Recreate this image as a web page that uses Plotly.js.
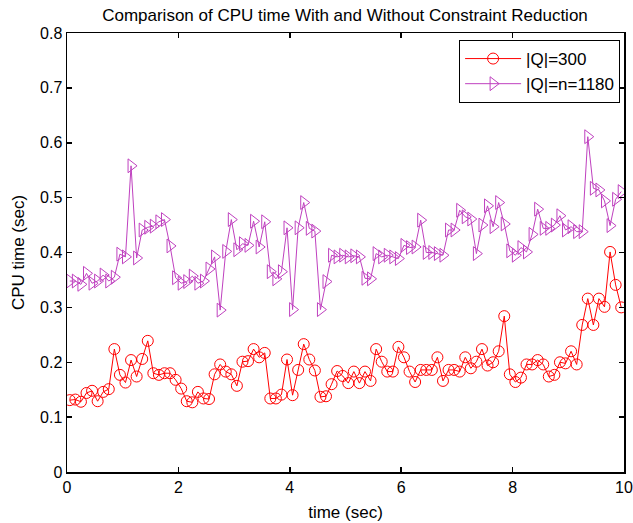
<!DOCTYPE html>
<html>
<head>
<meta charset="utf-8">
<script src="https://cdn.plot.ly/plotly-3.0.1.min.js"></script>
<style>html,body{margin:0;padding:0;background:#fff;}#chart{width:633px;height:523px;}</style>
</head>
<body>
<div id="chart"></div>
<script>
var times = [0.05,0.15,0.25,0.35,0.45,0.55,0.65,0.75,0.85,0.95,
1.05,1.15,1.25,1.35,1.45,1.55,1.65,1.75,1.85,1.95,
2.05,2.15,2.25,2.35,2.45,2.55,2.65,2.75,2.85,2.95,
3.05,3.15,3.25,3.35,3.45,3.55,3.65,3.75,3.85,3.95,
4.05,4.15,4.25,4.35,4.45,4.55,4.65,4.75,4.85,4.95,
5.05,5.15,5.25,5.35,5.45,5.55,5.65,5.75,5.85,5.95,
6.05,6.15,6.25,6.35,6.45,6.55,6.65,6.75,6.85,6.95,
7.05,7.15,7.25,7.35,7.45,7.55,7.65,7.75,7.85,7.95,
8.05,8.15,8.25,8.35,8.45,8.55,8.65,8.75,8.85,8.95,
9.05,9.15,9.25,9.35,9.45,9.55,9.65,9.75,9.85,9.95];

var cpuQ300 = [0.131,0.132,0.128,0.144,0.148,0.129,0.146,0.151,0.224,0.177,
0.163,0.204,0.174,0.206,0.239,0.180,0.177,0.180,0.180,0.168,
0.152,0.129,0.127,0.146,0.134,0.133,0.178,0.196,0.183,0.178,
0.157,0.201,0.202,0.224,0.209,0.217,0.134,0.134,0.141,0.205,
0.140,0.186,0.233,0.205,0.185,0.137,0.138,0.160,0.184,0.175,
0.162,0.183,0.162,0.183,0.166,0.224,0.201,0.183,0.183,0.228,
0.209,0.183,0.164,0.186,0.186,0.186,0.209,0.166,0.186,0.186,
0.183,0.209,0.189,0.201,0.224,0.194,0.200,0.220,0.284,0.178,
0.164,0.172,0.196,0.196,0.204,0.196,0.174,0.177,0.200,0.198,
0.220,0.196,0.268,0.316,0.268,0.316,0.301,0.401,0.341,0.300];

var cpuQ1180 = [0.348,0.348,0.342,0.362,0.344,0.348,0.359,0.348,0.355,0.397,
0.392,0.558,0.390,0.441,0.446,0.448,0.456,0.460,0.412,0.354,
0.344,0.347,0.357,0.344,0.348,0.370,0.392,0.295,0.402,0.460,
0.405,0.416,0.413,0.457,0.410,0.456,0.365,0.352,0.365,0.445,
0.296,0.445,0.491,0.444,0.439,0.296,0.347,0.395,0.392,0.395,
0.392,0.394,0.392,0.353,0.352,0.398,0.392,0.395,0.392,0.389,
0.413,0.409,0.410,0.459,0.400,0.400,0.398,0.395,0.441,0.441,
0.477,0.465,0.461,0.398,0.450,0.485,0.447,0.491,0.452,0.403,
0.395,0.409,0.401,0.433,0.479,0.444,0.444,0.450,0.467,0.441,
0.447,0.438,0.438,0.611,0.517,0.514,0.494,0.449,0.497,0.511];

var seriesNames = ['|Q|=300', '|Q|=n=1180'];
var xTicks = [0,2,4,6,8,10];
var yTicks = [0,0.1,0.2,0.3,0.4,0.5,0.6,0.7,0.8];
var yTickText = ['0','0.1','0.2','0.3','0.4','0.5','0.6','0.7','0.8'];

var FONT = 'Liberation Sans, Arial, Helvetica, sans-serif';

var traces = [
  {x: times, y: cpuQ300, name: seriesNames[0], type: 'scatter', mode: 'lines+markers',
   line: {color: '#ff0000', width: 1},
   marker: {symbol: 'circle-open', size: 11, color: '#ff0000', line: {width: 1, color: '#ff0000'}}},
  {x: times, y: cpuQ1180, name: seriesNames[1], type: 'scatter', mode: 'lines+markers',
   line: {color: '#bf40bf', width: 1},
   marker: {symbol: 'triangle-right-open', size: 12, color: '#bf40bf', line: {width: 1, color: '#bf40bf'}}}
];

var axisCommon = {
  showgrid: false, zeroline: false, showline: true, linecolor: '#000', linewidth: 1.5,
  mirror: 'ticks', ticks: 'inside', ticklen: 5, tickwidth: 1.5, tickcolor: '#000',
  tickfont: {family: FONT, size: 16, color: '#000'}
};

var layout = {
  width: 633, height: 523,
  margin: {l: 67, r: 9, t: 33, b: 51},
  paper_bgcolor: '#fff', plot_bgcolor: '#fff',
  title: {text: 'Comparison of CPU time With and Without Constraint Reduction',
          font: {family: FONT, size: 17, color: '#000'}, x: 0.545, xanchor: 'center', y: 0.971, yanchor: 'middle'},
  xaxis: Object.assign({}, axisCommon, {range: [0, 10], tickvals: xTicks, ticktext: xTicks.map(String),
          title: {text: 'time (sec)', font: {family: FONT, size: 17, color: '#000'}, standoff: 11}}),
  yaxis: Object.assign({}, axisCommon, {range: [0, 0.8], tickvals: yTicks, ticktext: yTickText,
          title: {text: 'CPU time (sec)', font: {family: FONT, size: 17, color: '#000'}, standoff: 11}}),
  showlegend: true,
  legend: {x: 0.993, y: 0.984, xanchor: 'right', yanchor: 'top', bgcolor: '#fff',
           bordercolor: '#000', borderwidth: 1, itemwidth: 56,
           font: {family: FONT, size: 17, color: '#000'}}
};

Plotly.newPlot('chart', traces, layout, {displayModeBar: false, staticPlot: true});
</script>
</body>
</html>
